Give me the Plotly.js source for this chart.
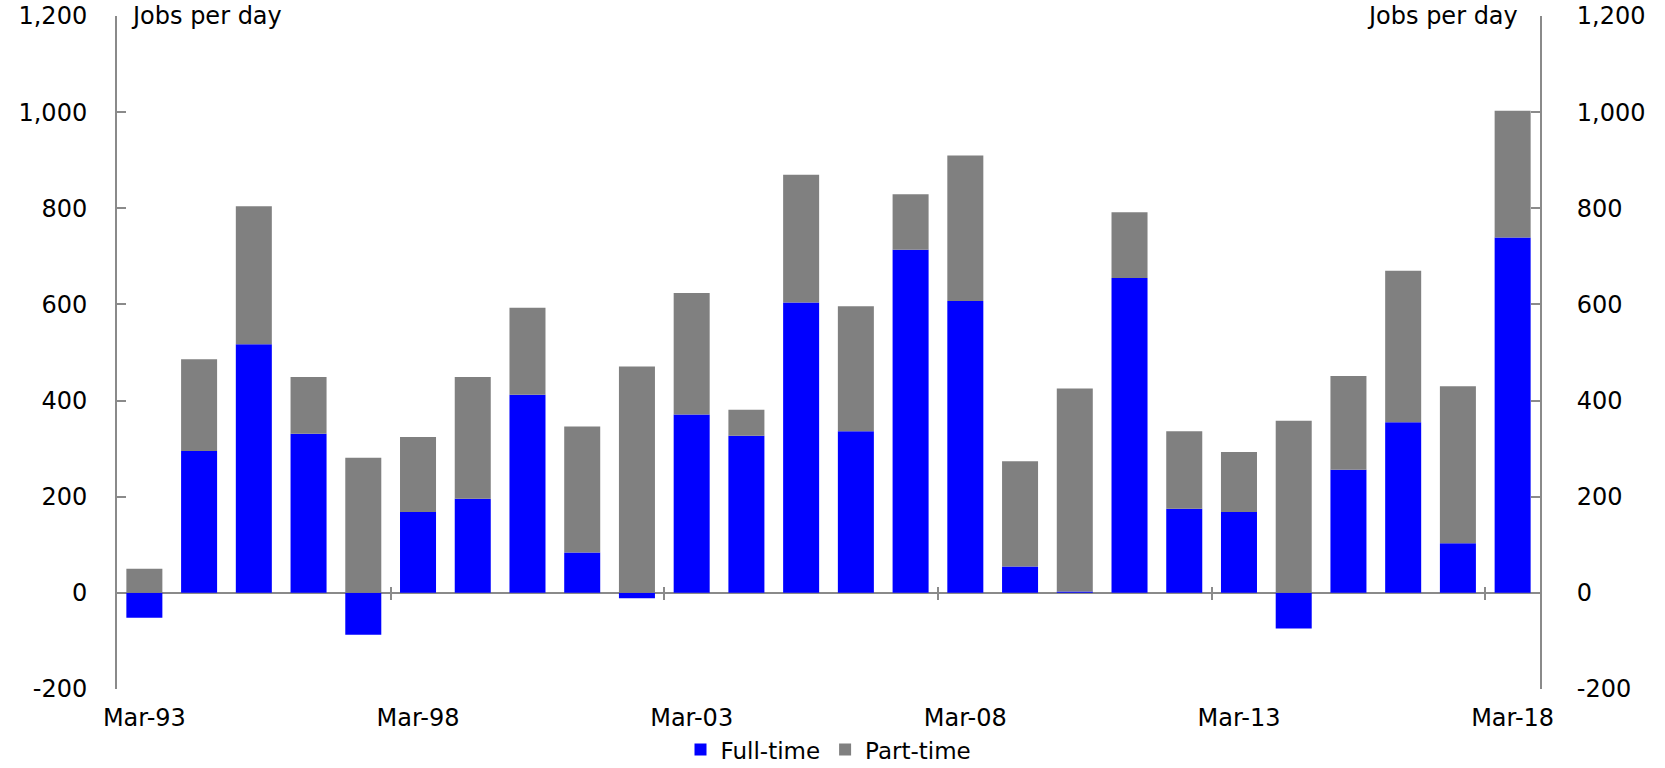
<!DOCTYPE html>
<html>
<head>
<meta charset="utf-8">
<script src="https://cdn.plot.ly/plotly-3.0.1.min.js"></script>
<style>
  html, body { margin: 0; padding: 0; background: #ffffff; }
  #chart { width: 1665px; height: 768px; }
</style>
</head>
<body>
<div id="chart"></div>
<script>
// ---- Data (jobs per day, year to March) ----
const categories = ['Mar-93','Mar-94','Mar-95','Mar-96','Mar-97','Mar-98','Mar-99','Mar-00','Mar-01','Mar-02',
                    'Mar-03','Mar-04','Mar-05','Mar-06','Mar-07','Mar-08','Mar-09','Mar-10','Mar-11','Mar-12',
                    'Mar-13','Mar-14','Mar-15','Mar-16','Mar-17','Mar-18'];
const fullTime = [-52, 295, 517, 331, -87, 168, 196, 412, 84, -11,
                  371, 327, 604, 336, 714, 607, 55, 3, 655, 175,
                  168, -74, 256, 355, 103, 739];
const partTime = [50, 191, 287, 118, 281, 156, 253, 181, 262, 471,
                  253, 54, 266, 260, 115, 303, 219, 422, 137, 161,
                  125, 358, 195, 315, 327, 264];
const xTickLabels = ['Mar-93','Mar-98','Mar-03','Mar-08','Mar-13','Mar-18'];
const yTickVals = [-200, 0, 200, 400, 600, 800, 1000, 1200];
const yRange = [-200, 1200];
const seriesNames = ['Full-time', 'Part-time'];
const unitLabel = 'Jobs per day';

// ---- Derived helpers ----
const yTickText = yTickVals.map(v => v.toLocaleString('en-US'));
const catRange = [-0.5, categories.length - 0.5];
// tick marks on the zero line sit on the category boundaries before each labelled category
const boundaryTicks = xTickLabels.slice(1).map(l => categories.indexOf(l) - 0.5);
const zeroPos = (0 - yRange[0]) / (yRange[1] - yRange[0]);

const axisGrey = '#8a8a8a';
const FONT = 'DejaVu Sans, Liberation Sans, Arial, sans-serif';
const FS = 24;

const hidden = { mode: 'markers', marker: { opacity: 0, size: 1 }, showlegend: false, hoverinfo: 'skip', type: 'scatter' };

const traces = [
  { type: 'bar', name: seriesNames[0], x: categories, y: fullTime,
    marker: { color: '#0000ff', line: { width: 0 } }, hoverinfo: 'x+y' },
  { type: 'bar', name: seriesNames[1], x: categories, y: partTime,
    marker: { color: '#808080', line: { width: 0 } }, hoverinfo: 'x+y' },
  // invisible helpers so the right-hand axis and the zero-line tick axes are drawn
  Object.assign({}, hidden, { x: categories, y: fullTime, xaxis: 'x', yaxis: 'y2' }),
  Object.assign({}, hidden, { x: boundaryTicks, y: boundaryTicks.map(() => 0), xaxis: 'x2', yaxis: 'y' }),
  Object.assign({}, hidden, { x: boundaryTicks, y: boundaryTicks.map(() => 0), xaxis: 'x3', yaxis: 'y' })
];

const yCommon = {
  range: yRange, tickmode: 'array', tickvals: yTickVals, ticktext: yTickText,
  ticks: 'inside', ticklen: 9, tickwidth: 2, tickcolor: axisGrey,
  showline: true, linecolor: axisGrey, linewidth: 2,
  showgrid: false,
  tickfont: { family: FONT, size: FS, color: '#000' }, fixedrange: true
};

const xTickAxis = {
  overlaying: 'x', anchor: 'free', position: zeroPos, range: catRange,
  tickmode: 'array', tickvals: boundaryTicks, ticks: 'outside', ticklen: 6, tickwidth: 2,
  tickcolor: axisGrey, showticklabels: false, showline: false, showgrid: false, zeroline: false,
  fixedrange: true
};

const layout = {
  width: 1665, height: 768,
  margin: { l: 117, r: 125, t: 16, b: 79, pad: 0, autoexpand: false },
  font: { family: FONT, size: FS, color: '#000' },
  paper_bgcolor: '#ffffff', plot_bgcolor: '#ffffff',
  barmode: 'relative', bargap: 0.342,
  showlegend: true,
  legend: { orientation: 'h', x: 0.5, xanchor: 'center', y: -0.09, yanchor: 'middle',
            font: { family: FONT, size: 23, color: '#000' }, itemclick: false },
  xaxis: {
    type: 'category', categoryorder: 'array', categoryarray: categories, range: catRange,
    tickmode: 'array', tickvals: xTickLabels, ticktext: xTickLabels, ticks: '',
    showline: false, showgrid: false, zeroline: false, ticklabelstandoff: 12,
    tickfont: { family: FONT, size: FS, color: '#000' }, fixedrange: true
  },
  xaxis2: Object.assign({}, xTickAxis, { side: 'bottom' }),
  xaxis3: Object.assign({}, xTickAxis, { side: 'top' }),
  yaxis: Object.assign({}, yCommon, { side: 'left', ticklabelstandoff: 23,
                                      zeroline: true, zerolinecolor: axisGrey, zerolinewidth: 2 }),
  yaxis2: Object.assign({}, yCommon, { side: 'right', overlaying: 'y', anchor: 'x', ticklabelstandoff: 30,
                                       zeroline: false }),
  annotations: [
    { text: unitLabel, xref: 'paper', yref: 'paper', x: 0, y: 1, xanchor: 'left', yanchor: 'middle',
      xshift: 12, showarrow: false, font: { family: FONT, size: FS, color: '#000' } },
    { text: unitLabel, xref: 'paper', yref: 'paper', x: 1, y: 1, xanchor: 'right', yanchor: 'middle',
      xshift: -20, showarrow: false, font: { family: FONT, size: FS, color: '#000' } }
  ]
};

Plotly.newPlot('chart', traces, layout, { displayModeBar: false, staticPlot: true });
</script>
</body>
</html>
